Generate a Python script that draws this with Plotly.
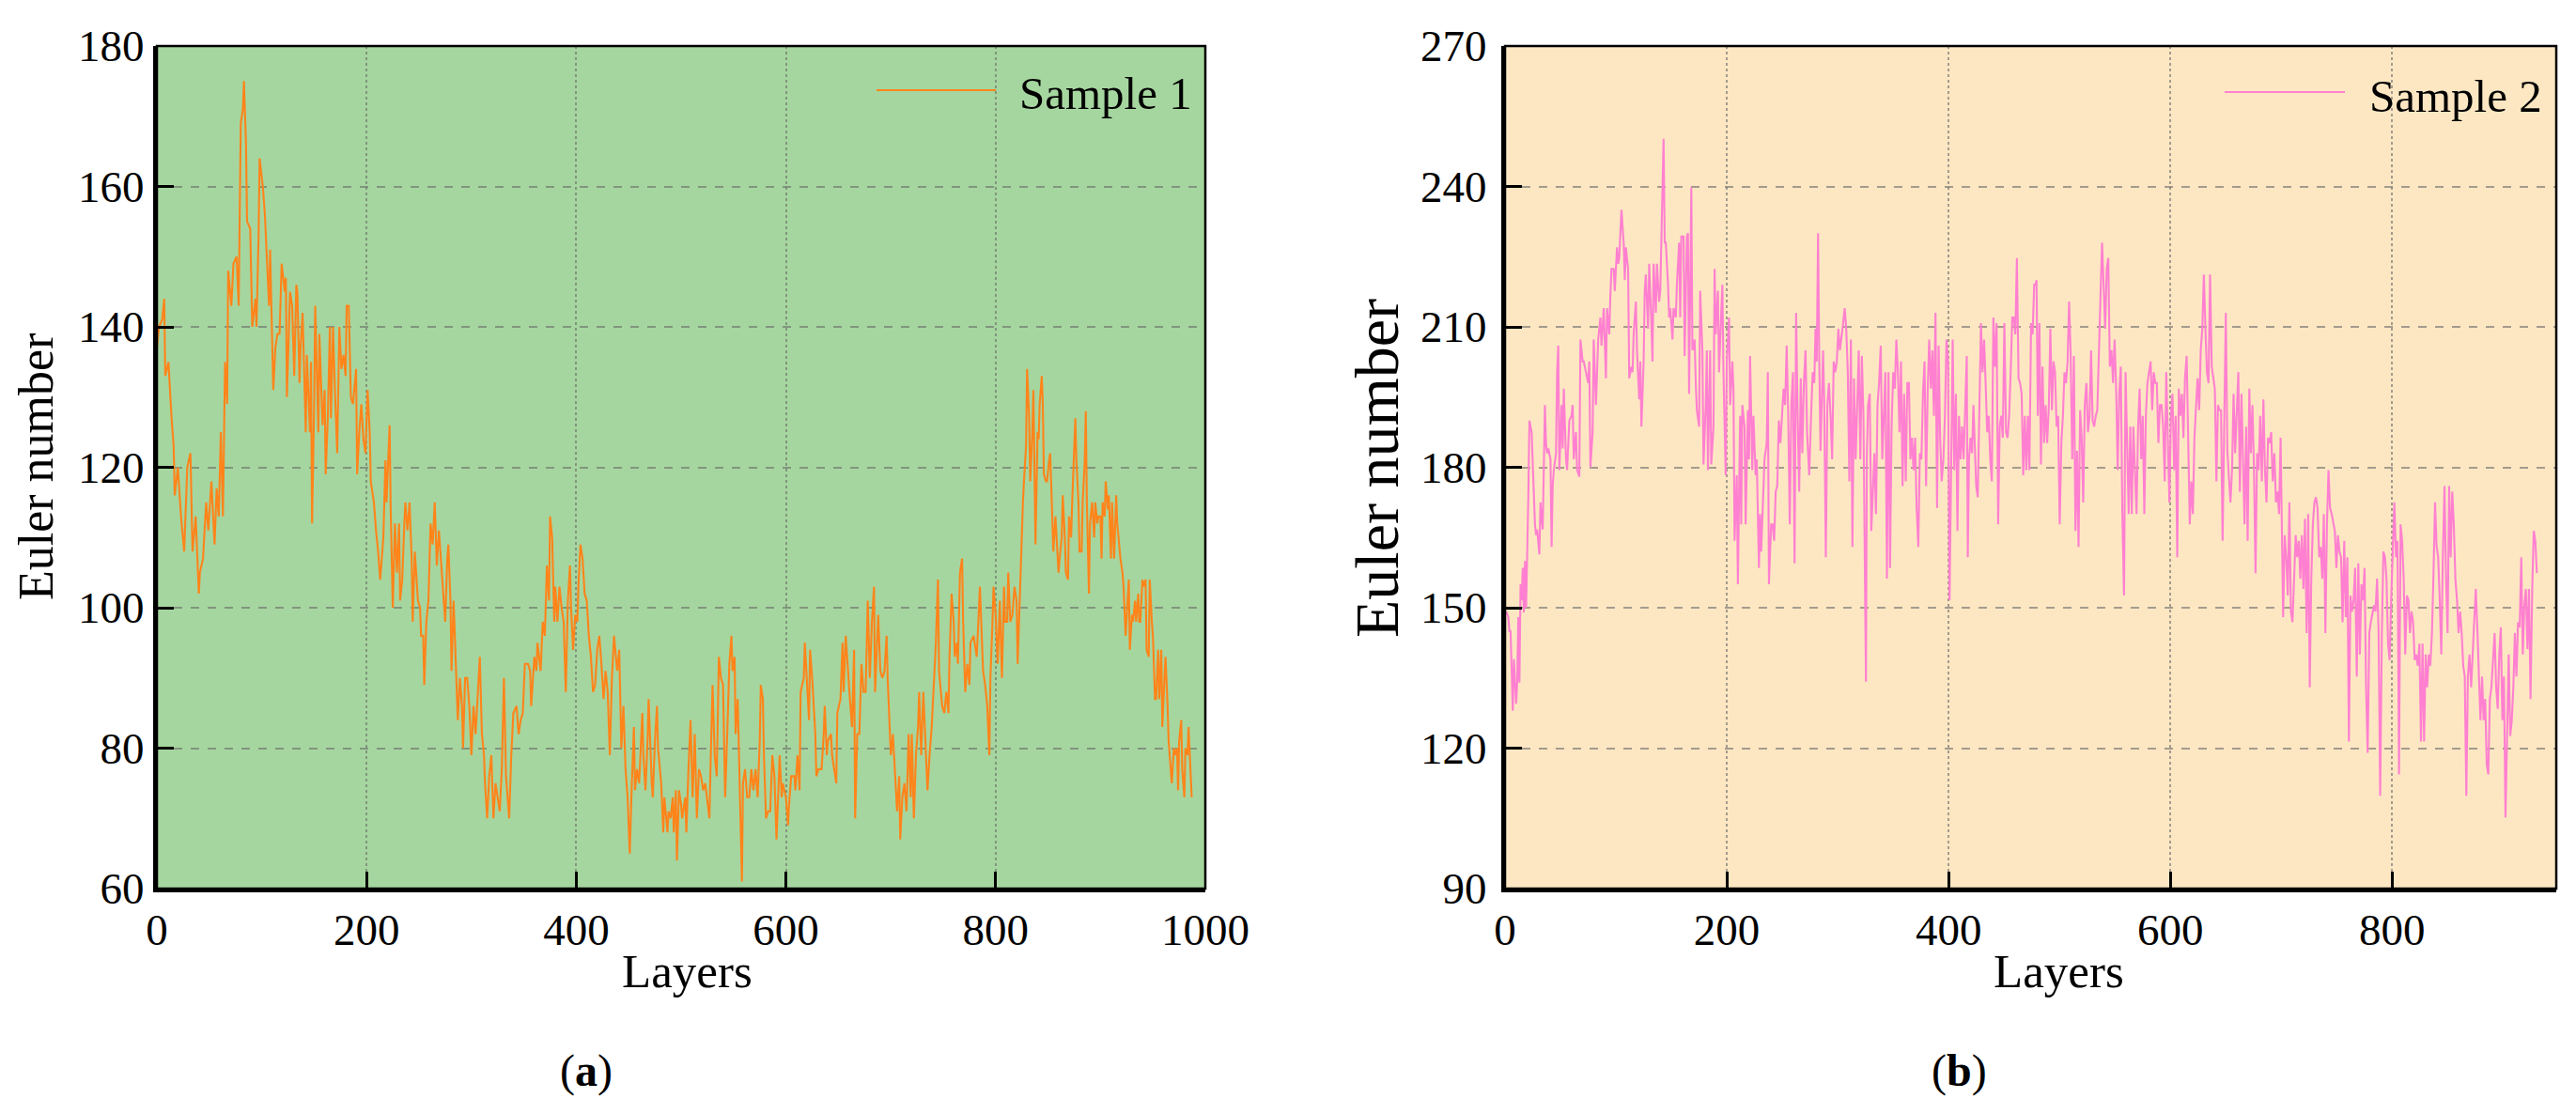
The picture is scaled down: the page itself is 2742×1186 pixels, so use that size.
import plotly.graph_objects as go

# ---------------- data: Sample 1 (panel a) ----------------
s1_layers_a = [0, 2, 5, 7, 8, 11, 14, 16, 17, 20,
               23, 26, 29, 32, 34, 37, 40, 41, 44, 47,
               49, 52, 55, 57, 59, 61, 63, 65, 67, 68,
               71, 73, 76, 78, 80, 82, 83, 85, 86, 89,
               91, 94, 95, 97, 98, 101, 103, 105, 107, 108,
               110, 111, 113, 115, 117, 119, 122, 123, 124, 125,
               127, 129, 131, 133, 134, 136, 137, 139, 140, 142,
               143, 145, 146, 147, 148, 150, 151, 153, 154, 155,
               157, 158, 160, 161, 163, 165, 166, 168, 170, 172,
               174, 176, 178, 180, 181, 183, 185, 187, 190, 191,
               193, 195, 197, 199, 201, 203, 204, 207, 209, 211,
               213, 216, 218, 219, 222, 223, 225, 227, 229, 231,
               232, 234, 236, 237, 239, 241, 243, 244, 246, 249,
               251, 252, 254, 255, 257, 259, 261, 263, 265, 267,
               269, 272]
s1_euler_a = [137, 140, 141, 144, 133, 135, 127, 123, 116, 120,
              113, 108, 120, 122, 108, 113, 102, 105, 107, 115,
              111, 118, 109, 117, 113, 125, 113, 135, 129, 148,
              143, 149, 150, 143, 169, 171, 175, 166, 155, 154,
              140, 144, 140, 153, 164, 160, 156, 149, 143, 151,
              139, 131, 137, 139, 139, 149, 145, 147, 130, 135,
              145, 143, 133, 146, 145, 132, 137, 142, 135, 125,
              136, 129, 125, 135, 112, 129, 143, 131, 125, 139,
              130, 126, 131, 119, 127, 140, 127, 140, 130, 122,
              140, 134, 136, 133, 143, 143, 130, 129, 134, 119,
              125, 129, 124, 122, 131, 125, 118, 115, 111, 108,
              104, 110, 121, 115, 126, 114, 100, 112, 105, 112,
              101, 104, 112, 115, 111, 115, 107, 98, 108, 101,
              100, 96, 96, 89, 98, 101, 112, 109, 115, 106,
              111, 105]

s1_layers_b = [273, 275, 277, 278, 280, 281, 283, 285, 287, 289,
               291, 292, 294, 296, 298, 300, 302, 304, 306, 308,
               310, 312, 313, 315, 317, 319, 321, 323, 325, 327,
               329, 331, 333, 336, 338, 340, 343, 345, 347, 349,
               351, 354, 356, 357, 360, 362, 363, 366, 368, 370,
               372, 374, 375, 377, 379, 380, 382, 384, 386, 388,
               390, 392, 394, 395, 397, 399, 401, 402, 404, 406,
               408, 410, 412, 414, 416, 418, 420, 422, 424, 426,
               428, 430, 432, 434, 436, 439, 441, 443, 445, 447,
               449, 451, 453, 455, 456, 458, 460, 463, 464, 466,
               468, 469, 472, 473, 475, 477, 478, 481, 483, 484,
               487, 488, 490, 492, 493, 495, 496, 498, 500, 501,
               504, 505, 507, 509, 511, 513, 515, 517, 519, 521,
               523, 525, 527, 528, 530, 532, 534, 536, 538, 540]
s1_euler_b = [103, 98, 107, 109, 101, 91, 101, 93, 84, 90,
              86, 80, 90, 90, 86, 79, 86, 82, 87, 93,
              82, 79, 75, 70, 76, 79, 70, 75, 73, 71,
              77, 90, 76, 70, 79, 85, 86, 82, 84, 85,
              92, 92, 91, 86, 93, 91, 95, 91, 98, 96,
              106, 101, 113, 110, 98, 103, 98, 103, 100, 98,
              88, 101, 106, 100, 94, 99, 98, 103, 109, 107,
              102, 101, 96, 93, 88, 89, 94, 96, 92, 87,
              91, 88, 79, 90, 96, 91, 94, 80, 86, 77,
              73, 65, 75, 83, 74, 77, 75, 85, 79, 74,
              81, 87, 75, 73, 81, 86, 80, 75, 68, 73,
              68, 71, 70, 73, 68, 74, 64, 74, 72, 70,
              73, 68, 77, 84, 73, 82, 70, 77, 76, 74,
              75, 72, 70, 77, 89, 79, 76, 93, 90, 89]

s1_layers_c = [542, 544, 546, 548, 549, 551, 552, 554, 555, 557,
               558, 559, 561, 563, 565, 567, 569, 571, 573, 575,
               576, 578, 579, 581, 583, 585, 587, 589, 591, 593,
               594, 596, 597, 600, 602, 603, 605, 608, 609, 611,
               613, 614, 617, 618, 620, 622, 623, 625, 628, 629,
               631, 634, 636, 637, 639, 640, 643, 644, 646, 648,
               649, 652, 654, 655, 657, 659, 661, 663, 665, 666,
               668, 670, 672, 674, 676, 678, 680, 682, 684, 685,
               687, 688, 690, 692, 694, 696, 697, 699, 700, 702,
               704, 706, 708, 709, 711, 713, 715, 717, 719, 720,
               722, 724, 726, 727, 729, 731, 733, 735, 737, 739,
               741, 743, 745, 746, 749, 751, 753, 755, 756, 758,
               760, 761, 763, 764, 766, 768, 769, 771, 773, 775,
               776, 779, 781, 782, 785, 787, 788, 790, 792, 794,
               795, 797, 798, 800, 802, 804, 806, 808, 809]
s1_euler_c = [73, 82, 92, 96, 91, 93, 82, 87, 80, 70,
              61, 75, 77, 73, 73, 77, 74, 77, 73, 81,
              89, 87, 79, 70, 71, 71, 79, 76, 67, 75,
              79, 73, 75, 73, 69, 72, 76, 76, 74, 79,
              74, 88, 90, 95, 90, 84, 94, 90, 82, 76,
              77, 77, 82, 86, 79, 81, 82, 79, 77, 75,
              85, 87, 95, 88, 96, 91, 87, 83, 94, 70,
              82, 82, 92, 88, 88, 101, 90, 98, 103, 88,
              94, 99, 91, 90, 91, 96, 90, 83, 79, 82,
              77, 71, 76, 67, 73, 75, 71, 82, 73, 82,
              70, 79, 83, 88, 79, 88, 81, 74, 79, 83,
              89, 95, 104, 91, 86, 85, 88, 85, 93, 102,
              98, 93, 95, 92, 105, 107, 98, 88, 92, 89,
              95, 96, 94, 93, 103, 96, 91, 89, 86, 79,
              90, 98, 103, 99, 92, 101, 90, 103, 98]

s1_layers_d = [811, 812, 814, 816, 818, 820, 821, 823, 824, 826,
               827, 829, 830, 832, 833, 835, 836, 837, 838, 840,
               841, 842, 844, 845, 846, 848, 849, 851, 852, 854,
               855, 857, 858, 860, 861, 863, 864, 866, 867, 869,
               870, 872, 873, 875, 876, 877, 879, 880, 882, 883,
               885, 886, 887, 889, 890, 892, 894, 895, 897, 898,
               900, 901, 902, 904, 905, 907, 908, 910, 911, 913,
               915, 916, 918, 919, 921, 922, 924, 925, 927, 928,
               930, 931, 933, 934, 936, 937, 938, 940, 941, 943,
               944, 946, 947, 949, 950, 952, 953, 955, 956, 958,
               959, 961, 962, 964, 965, 967, 968, 970, 971, 973,
               974, 975, 977, 978, 980, 981, 983, 984, 986, 987]
s1_euler_d = [98, 105, 98, 99, 103, 101, 92, 101, 108, 115,
              118, 123, 134, 127, 118, 125, 131, 121, 109, 125,
              124, 129, 133, 129, 119, 118, 118, 121, 122, 113,
              108, 113, 110, 105, 107, 110, 116, 110, 105, 104,
              113, 110, 115, 122, 127, 121, 115, 108, 108, 115,
              121, 128, 115, 102, 112, 115, 110, 115, 112, 113,
              113, 107, 115, 113, 118, 114, 116, 107, 115, 107,
              116, 112, 108, 107, 105, 103, 96, 99, 104, 94,
              99, 98, 101, 98, 102, 98, 98, 104, 103, 104,
              94, 93, 104, 98, 96, 87, 87, 94, 87, 94,
              83, 90, 93, 86, 81, 77, 75, 80, 79, 80,
              74, 81, 84, 77, 73, 80, 79, 83, 77, 73]

# ---------------- data: Sample 2 (panel b) ----------------
s2_layers_a = [1, 3, 4, 5, 7, 8, 10, 11, 12, 13,
               14, 15, 16, 17, 18, 19, 21, 22, 24, 25,
               27, 28, 29, 31, 32, 34, 35, 36, 37, 38,
               39, 41, 42, 43, 44, 46, 47, 48, 49, 51,
               52, 53, 55, 56, 58, 60, 61, 62, 64, 65,
               67, 68, 70, 71, 73, 75, 76, 77, 79, 80,
               82, 83, 84, 86, 87, 89, 90, 91, 92, 94,
               95, 96, 98, 99, 101, 102, 103, 105, 107, 108,
               109, 111, 112, 114, 115, 116, 118, 119, 121, 122,
               123, 125, 126, 127, 129, 130, 132, 133, 134, 136,
               137, 139, 140, 142, 143, 144, 145, 147, 148, 149,
               151, 152, 154, 155, 157, 158, 159, 161, 162, 164,
               165, 166, 168, 169, 171, 172, 173, 175, 176, 178,
               179, 181, 182, 183, 185, 186, 188, 189, 190, 192,
               193, 195, 196, 197, 199, 200, 202, 203, 205, 206,
               207, 209, 210, 212, 213, 214, 216, 217, 219, 220,
               221, 223, 224, 226, 227, 229, 230, 231, 233, 234,
               236, 237, 238, 240]
s2_euler_a = [149.2, 148, 145, 145, 128, 139, 129.5, 134, 148, 134,
              155, 151.6, 158.5, 149, 160, 150, 173.6, 190, 187.5, 180.6,
              167.8, 165.5, 166.7, 161.4, 172.5, 166.7, 185, 193.3, 185, 183,
              184, 181.7, 163, 176, 179.4, 183, 200.3, 206, 179.4, 193.3,
              184, 196.8, 181.7, 179.4, 190, 191, 193.3, 181.7, 187.5, 179.4,
              178, 207.3, 202.6, 202.6, 200.3, 198, 202.6, 180, 187.5, 207.3,
              193.3, 200.3, 207.3, 212, 206, 214, 206, 199, 214, 208.4,
              216.6, 222.4, 222.4, 217.7, 227, 223.5, 224.7, 235, 228, 220,
              227, 222.4, 199, 201.5, 200.3, 208.4, 215.4, 205, 194.5, 202.6,
              188.7, 202.6, 217.7, 221.2, 209.6, 223.5, 210.8, 202.6, 223.5, 213,
              223.5, 215.4, 217.7, 243.2, 250.2, 228, 228, 219, 212, 214,
              207.3, 214, 212, 219, 228, 212, 229.3, 229.3, 203.8, 229.3,
              230, 195.7, 239.8, 205, 207.3, 198, 192.2, 188.7, 217.7, 205,
              180.6, 193.3, 205, 179.4, 205, 180.6, 188.7, 222.4, 208.4, 217.7,
              200.3, 213, 219, 200.3, 178.3, 202.6, 212, 193.3, 202.6, 196.8,
              164.3, 178.3, 155, 191, 167.8, 193.3, 188.7, 167.8, 192.2, 181.7,
              203.8, 179.4, 191, 178.3, 181.7, 158.5, 170, 162, 177, 181.7,
              185.2, 200.3, 155, 167.8]

s2_layers_b = [241.3, 242.7, 244.1, 245.5, 246.9, 248.4, 249.8, 251.2, 252.6, 254.0,
               255.4, 256.8, 258.2, 259.7, 261.1, 262.5, 263.9, 265.3, 266.7, 268.1,
               269.5, 271.0, 272.4, 274.3, 276.0, 277.4, 278.9, 280.0, 281.1, 282.3,
               283.4, 284.5, 285.6, 286.8, 287.9, 289.3, 290.7, 292.1, 293.6, 295.0,
               296.4, 297.8, 299.2, 300.6, 302.0, 303.4, 304.9, 306.3, 307.7, 309.1,
               310.5, 311.9, 313.3, 314.7, 316.2, 317.6, 319.0, 320.4, 321.8, 323.2,
               324.6, 325.5, 326.3, 327.4, 328.9, 330.3, 331.7, 333.1, 334.5, 335.9,
               337.3, 338.8, 340.2, 341.6, 343.0, 344.4, 345.8, 347.2, 348.6, 350.1,
               351.5, 352.9, 354.3, 355.7, 357.1, 358.5, 359.9, 361.4, 362.8, 364.2,
               365.6, 367.0, 368.4, 369.8, 371.2, 372.7, 374.1, 375.5, 376.9, 378.3,
               379.7, 381.1, 382.5, 384.0, 385.4, 386.8, 388.2, 389.6, 391.0, 392.4,
               393.8, 395.3, 396.7, 398.1, 399.5, 400.9, 402.3, 403.7, 405.1, 406.6,
               408.0, 409.4, 410.8, 412.2, 413.6, 415.0, 416.4, 417.3, 418.4, 419.8,
               421.2, 422.4, 423.5, 424.9, 426.3, 427.7, 429.2, 430.6, 432.0, 433.4,
               434.8, 436.2, 437.6, 439.0, 440.4, 441.9, 443.3, 444.7, 446.1, 447.5,
               448.9, 450.3, 451.8, 453.2, 454.6, 456.0, 457.4, 458.8, 460.2, 461.6,
               463.1, 464.5, 465.9, 467.3, 468.7, 470.1, 471.5, 472.9, 474.4, 475.8,
               477.2]
s2_euler_b = [167.8, 164.3, 174.8, 176, 190, 185.2, 191, 196.8, 193.3, 206,
              191, 167.8, 193.3, 200.3, 159.5, 213, 191, 174.8, 199, 183,
              198, 205, 187.5, 178.3, 191, 200.3, 198, 209.6, 202.6, 230,
              202.6, 183.5, 193.3, 205, 193.3, 160.8, 193.3, 198, 191, 181.7,
              202.6, 200.3, 202.6, 209.6, 205, 207.3, 210.8, 214, 209.6, 200.3,
              177, 207.3, 163, 199, 181.7, 193.3, 205, 181.7, 203.8, 191,
              144.6, 134.2, 183, 193.3, 195.7, 166.4, 174.8, 183, 170, 193.3,
              198, 206, 181.7, 191, 200.3, 156.2, 200.3, 158.5, 188.7, 200.3,
              196.8, 207.3, 200.3, 187.5, 202.6, 176, 195.7, 177, 198, 198,
              181.7, 186.3, 179.4, 186.3, 171.3, 163, 183, 181.7, 195.7, 202.6,
              176, 195.7, 207.3, 196.8, 205, 191, 213, 171.3, 206, 186.3,
              177, 181.7, 191, 207.3, 202.6, 151.6, 183, 207.3, 179.4, 195.7,
              166.4, 191, 181.7, 188.7, 181.7, 195.7, 203.8, 160.8, 181.7, 186.3,
              183, 193.3, 186.3, 176, 173.6, 191, 210.8, 200.3, 207.3, 198,
              187.5, 191, 181.7, 177, 212, 201.5, 210.8, 167.8, 188.7, 191,
              186.3, 210.8, 187.5, 186.3, 191, 200.3, 212, 212, 208.4, 224.7,
              199, 198, 195.7, 178.3, 191, 179.4, 191, 179.4, 210.8, 208.4,
              219]

s2_layers_c = [478.5, 479.3, 480.5, 481.9, 483.3, 484.7, 486.1, 487.5, 488.9, 490.4,
               491.8, 493.2, 494.6, 496.0, 497.4, 498.8, 500.2, 501.7, 503.1, 504.5,
               505.9, 507.3, 508.7, 510.1, 511.5, 513.0, 514.4, 515.8, 517.2, 518.6,
               520.0, 521.4, 522.8, 524.3, 525.7, 527.1, 528.5, 529.9, 531.3, 532.7,
               534.1, 535.6, 537.0, 538.4, 539.8, 541.2, 542.6, 544.0, 545.4, 546.9,
               548.3, 549.7, 551.1, 552.5, 553.9, 555.3, 556.7, 558.2, 559.6, 561.0,
               562.4, 563.8, 565.2, 566.6, 568.0, 569.5, 570.9, 572.3, 573.7, 575.1,
               576.5, 577.9, 579.3, 580.8, 582.2, 583.6, 585.0, 586.4, 587.8, 589.2,
               590.6, 592.1, 593.5, 594.9, 596.3, 597.7, 599.1, 600.5, 601.9, 603.4,
               604.8, 606.2, 607.6, 609.0, 610.4, 611.8, 613.2, 614.7, 616.1, 617.5,
               618.9, 620.3, 621.7, 623.1, 624.5, 626.0, 627.4, 628.8, 630.2, 631.6,
               633.0, 634.4, 635.8, 637.3, 638.7, 640.1, 641.5, 642.9, 644.3, 645.7,
               647.1, 648.6, 650.0, 651.4, 652.8, 654.2, 655.6, 657.0, 658.4, 659.9,
               661.3, 662.7, 664.1, 665.5, 666.9, 668.3, 669.7, 671.2, 672.6, 674.0,
               675.4, 676.8, 678.2, 679.6, 681.0, 682.5, 683.9, 685.3, 686.7, 688.1,
               689.5, 690.9, 692.3, 693.8, 695.2, 696.6, 698.0, 699.4, 700.8, 701.7,
               703.1, 704.5, 705.9, 707.3, 708.7, 710.1, 711.6, 713.0, 714.4]
s2_euler_c = [219, 220, 191, 210.8, 180.6, 201.5, 185.2, 193.3, 185.2, 193.3,
              209.6, 192.2, 202.6, 200.3, 188.7, 191, 167.8, 185.2, 191, 200.3,
              198, 202.6, 215.4, 203.8, 181.7, 203.8, 166.4, 183.5, 163, 192.2,
              186.3, 172.5, 193.3, 198, 187.5, 191, 205, 190, 188.7, 191,
              192.2, 202.6, 216.6, 228, 220, 209.6, 222.4, 224.7, 201.5, 205,
              198, 207.3, 196.8, 179.4, 195.7, 201.5, 170, 152.6, 200.3, 183,
              170, 188.7, 170, 188.7, 179.4, 170, 188.7, 196.8, 181.7, 191,
              170, 191, 198, 200.3, 202.6, 192.2, 200.3, 198, 198, 185.2,
              193.3, 193.3, 188.7, 177, 200.3, 186.3, 172.5, 191, 195.7, 179.4,
              191, 160.8, 196.8, 191, 195.7, 186.3, 199, 203.8, 183, 167.8,
              177, 170, 186.3, 192.2, 199, 192.2, 205, 209.6, 221.2, 209.6,
              200.3, 198, 221.2, 201.5, 199, 196.8, 177, 193.3, 192.2, 192.2,
              164.3, 188.7, 213, 183.5, 177, 172.5, 179.4, 195.7, 183, 193.3,
              200.3, 174.8, 195.7, 181.7, 167.8, 188.7, 164.3, 196.8, 183, 193.3,
              179.4, 157.4, 183, 179.4, 191, 177, 194.5, 179.4, 172.5, 186.3,
              185.2, 187.5, 177, 183, 172.5, 174.8, 170, 186.3, 167.8, 148,
              165.5, 160.8, 152.6, 172.5, 149.2, 146.9, 156.2, 165.5, 160.8]

s2_layers_d = [715.8, 717.2, 718.6, 720.0, 721.4, 722.9, 724.3, 725.7, 727.1, 728.5,
               729.9, 731.3, 732.7, 734.2, 735.6, 737.0, 738.4, 739.8, 741.2, 742.6,
               744.0, 745.5, 746.9, 748.3, 749.7, 751.1, 752.5, 753.9, 755.3, 756.8,
               758.2, 759.6, 761.0, 762.4, 763.8, 765.2, 766.6, 768.1, 769.5, 770.9,
               772.3, 773.7, 775.1, 776.5, 777.9, 779.4, 780.8, 782.2, 783.6, 785.0,
               786.4, 787.8, 789.2, 790.7, 792.1, 793.5, 794.9, 796.3, 797.7, 799.1,
               800.5, 802.0, 803.4, 804.8, 806.2, 807.6, 809.0, 810.4, 811.8, 813.3,
               814.7, 816.1, 817.5, 818.9, 820.3, 821.7, 823.1, 824.6, 826.0, 827.4,
               828.8, 830.2, 831.6, 833.0, 834.4, 835.9, 837.3, 838.7, 840.1, 841.5,
               842.9, 844.3, 845.7, 847.2, 848.6, 850.0, 851.4, 852.8, 854.2, 855.6,
               857.0, 858.5, 859.9, 861.3, 862.7, 864.1, 865.5, 866.9, 868.3, 869.8,
               871.2, 872.6, 874.0, 875.4, 876.8, 878.2, 879.6, 881.1, 882.5, 883.9,
               885.3, 886.7, 888.1, 889.5, 890.9, 892.4, 893.8, 895.2, 896.6, 898.0,
               899.4, 900.8, 902.2, 903.7, 905.1, 906.5, 907.9, 909.3, 910.7, 912.1,
               913.5, 915.0, 916.4, 917.8, 919.2, 920.6, 922.0, 923.4, 924.8, 926.3,
               927.7, 929.1, 930.5]
s2_euler_d = [164.3, 156.2, 165.5, 154, 169, 144.6, 170, 133, 156.2, 167.8,
              172.5, 173.6, 171.3, 160.8, 163, 156.2, 170, 144.6, 167.8, 179.4,
              171.3, 170, 167.8, 166.4, 158.5, 165.5, 162, 160.8, 146.9, 164.3,
              148, 160.8, 121.4, 152.6, 149.2, 151.6, 158.5, 135.3, 159.5, 140,
              155, 151.6, 158.5, 133, 119, 144.6, 146.9, 149.2, 150.5, 149.2,
              156.2, 144.6, 109.8, 144.6, 162, 160.8, 156.2, 142.3, 138.8, 151.6,
              162, 172.5, 160.8, 164.3, 114.4, 167.8, 164.3, 156.2, 140, 152.6,
              151.6, 144.6, 149.2, 146.9, 138.8, 140, 137.6, 142.3, 121.4, 142.3,
              121.4, 140, 133, 140, 137.6, 144.6, 157.4, 172.5, 163, 160.8,
              151.6, 140, 160.8, 176, 156.2, 144.6, 176, 160.8, 174.8, 167.8,
              156.2, 151.6, 144.6, 149.2, 144.6, 137.6, 135.3, 109.8, 135.3, 140,
              133, 140, 144.6, 154, 145.8, 133, 126, 135.3, 126, 130.5,
              116.6, 114.4, 130.5, 133, 140, 144.6, 133, 128.4, 140, 145.8,
              126, 135.3, 105.2, 124.9, 140, 122.6, 126, 133, 144.6, 135.3,
              146.9, 145.8, 160.8, 140, 150.5, 154, 141.2, 154, 130.5, 154,
              166.4, 164.3, 157.4]

x_ticks_a = [0, 200, 400, 600, 800, 1000]
y_ticks_a = [60, 80, 100, 120, 140, 160, 180]
x_ticks_b = [0, 200, 400, 600, 800]
y_ticks_b = [90, 120, 150, 180, 210, 240, 270]
series_names = ["Sample 1", "Sample 2"]

# sanity checks
for xs, ys in [(s1_layers_a, s1_euler_a), (s1_layers_b, s1_euler_b), (s1_layers_c, s1_euler_c),
               (s1_layers_d, s1_euler_d), (s2_layers_a, s2_euler_a), (s2_layers_b, s2_euler_b),
               (s2_layers_c, s2_euler_c), (s2_layers_d, s2_euler_d)]:
    assert len(xs) == len(ys), (len(xs), len(ys))

s1_layers = s1_layers_a + s1_layers_b + s1_layers_c + s1_layers_d
s1_euler = s1_euler_a + s1_euler_b + s1_euler_c + s1_euler_d
s2_layers = s2_layers_a + s2_layers_b + s2_layers_c + s2_layers_d
s2_euler = s2_euler_a + s2_euler_b + s2_euler_c + s2_euler_d

# ---------------- styling ----------------
FONT = "Liberation Serif"
ORANGE = "#FF841A"
PINK = "#FF80D0"
GREEN_BG = "#A6D69F"
PEACH_BG = "#FDE7C3"
GRID = "rgba(105,105,105,0.6)"

W, H = 2742, 1186
dom_x1 = [167 / W, 1283 / W]
dom_x2 = [1602 / W, 2721 / W]
dom_y = [1 - 946 / H, 1 - 49 / H]

fig = go.Figure()
fig.add_trace(go.Scatter(x=s1_layers, y=s1_euler, mode="lines", name=series_names[0],
                         line=dict(color=ORANGE, width=2.1), xaxis="x", yaxis="y",
                         showlegend=False))
fig.add_trace(go.Scatter(x=s2_layers, y=s2_euler, mode="lines", name=series_names[1],
                         line=dict(color=PINK, width=2.1), xaxis="x2", yaxis="y2",
                         showlegend=False))

tickfont = dict(family=FONT, size=47, color="black")
common = dict(showline=True, linecolor="black", linewidth=4, mirror=False,
              ticks="inside", ticklen=18, tickwidth=3, tickcolor="black",
              showgrid=True, gridcolor=GRID, gridwidth=1.5, zeroline=False,
              tickfont=tickfont, fixedrange=True, automargin=False)

fig.update_layout(
    width=W, height=H,
    margin=dict(l=0, r=0, t=0, b=0, autoexpand=False),
    paper_bgcolor="white", plot_bgcolor="rgba(0,0,0,0)",
    showlegend=False,
    xaxis=dict(domain=dom_x1, range=[0, 1000], tickvals=x_ticks_a, griddash="dot",
               anchor="y", ticklabelstandoff=0, **common),
    yaxis=dict(domain=dom_y, range=[60, 180], tickvals=y_ticks_a, griddash="dash",
               anchor="x", ticklabelstandoff=0, **common),
    xaxis2=dict(domain=dom_x2, range=[0, 948], tickvals=x_ticks_b, griddash="dot",
                anchor="y2", ticklabelstandoff=0, **common),
    yaxis2=dict(domain=dom_y, range=[90, 270], tickvals=y_ticks_b, griddash="dash",
                anchor="x2", ticklabelstandoff=6, **common),
)

shapes = []
for xr, yr, col in [("x domain", "y domain", GREEN_BG), ("x2 domain", "y2 domain", PEACH_BG)]:
    shapes.append(dict(type="rect", xref=xr, yref=yr, x0=0, x1=1, y0=0, y1=1,
                       fillcolor=col, line=dict(width=0), layer="below"))
    shapes.append(dict(type="rect", xref=xr, yref=yr, x0=0, x1=1, y0=0, y1=1,
                       fillcolor="rgba(0,0,0,0)", line=dict(color="black", width=2.5),
                       layer="above"))
# legend sample lines
shapes.append(dict(type="line", xref="paper", yref="paper", x0=933 / W, x1=1060 / W,
                   y0=1 - 96 / H, y1=1 - 96 / H, line=dict(color=ORANGE, width=2)))
shapes.append(dict(type="line", xref="paper", yref="paper", x0=2368 / W, x1=2496 / W,
                   y0=1 - 98 / H, y1=1 - 98 / H, line=dict(color=PINK, width=2)))
fig.update_layout(shapes=shapes)

ann = []
ann.append(dict(text=series_names[0], x=1083 / W, y=1 - 100 / H, xref="paper", yref="paper",
                xanchor="left", yanchor="middle", showarrow=False,
                font=dict(family=FONT, size=49, color="black")))
ann.append(dict(text=series_names[1], x=2520 / W, y=1 - 102 / H, xref="paper", yref="paper",
                xanchor="left", yanchor="middle", showarrow=False,
                font=dict(family=FONT, size=49, color="black")))
ann.append(dict(text="Euler number", x=38 / W, y=1 - 497 / H, xref="paper", yref="paper",
                xanchor="center", yanchor="middle", textangle=-90, showarrow=False,
                font=dict(family=FONT, size=52, color="black")))
ann.append(dict(text="Euler number", x=1465 / W, y=1 - 499 / H, xref="paper", yref="paper",
                xanchor="center", yanchor="middle", textangle=-90, showarrow=False,
                font=dict(family=FONT, size=66, color="black")))
ann.append(dict(text="Layers", x=731 / W, y=1 - 1034 / H, xref="paper", yref="paper",
                xanchor="center", yanchor="middle", showarrow=False,
                font=dict(family=FONT, size=51, color="black")))
ann.append(dict(text="Layers", x=2191 / W, y=1 - 1034 / H, xref="paper", yref="paper",
                xanchor="center", yanchor="middle", showarrow=False,
                font=dict(family=FONT, size=51, color="black")))
ann.append(dict(text="(<b>a</b>)", x=624 / W, y=1 - 1140 / H, xref="paper", yref="paper",
                xanchor="center", yanchor="middle", showarrow=False,
                font=dict(family=FONT, size=48, color="black")))
ann.append(dict(text="(<b>b</b>)", x=2085 / W, y=1 - 1140 / H, xref="paper", yref="paper",
                xanchor="center", yanchor="middle", showarrow=False,
                font=dict(family=FONT, size=48, color="black")))
fig.update_layout(annotations=ann)

fig.write_html("out.html")
